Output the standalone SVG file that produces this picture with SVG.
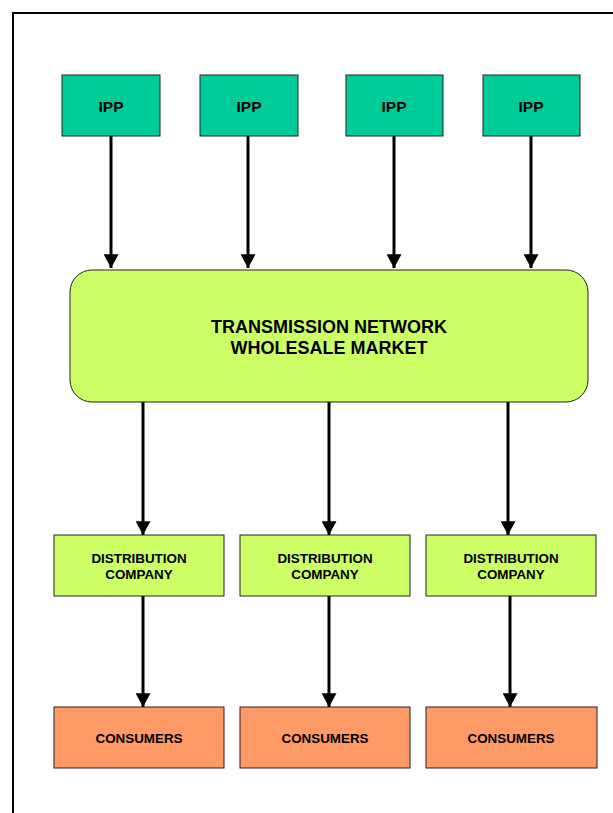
<svg xmlns="http://www.w3.org/2000/svg" width="613" height="813" viewBox="0 0 613 813">
  <style>
    .ipp { fill: #00CC99; stroke: #222; stroke-width: 1; }
    .net { fill: #CCFF66; stroke: #222; stroke-width: 1; }
    .dist { fill: #CCFF66; stroke: #222; stroke-width: 1; }
    .cons { fill: #FF9966; stroke: #222; stroke-width: 1; }
    .lbl { font-family: "Liberation Sans", Arial, sans-serif; font-weight: bold; fill: #000; text-anchor: middle; }
    .s12 { font-size: 13.4px; }
    .s15 { font-size: 15.5px; }
    .s16 { font-size: 18px; }
    .edge { stroke: #000; stroke-width: 3; fill: none; marker-end: url(#arrow); }
  </style>
  <defs>
    <marker id="arrow" markerWidth="5" markerHeight="5" refX="4.6" refY="2.5" orient="auto" markerUnits="strokeWidth">
      <path d="M0,0 L4.6,2.5 L0,5 z" fill="#000"/>
    </marker>
  </defs>
  <rect width="613" height="813" fill="#fff"/>
  <!-- outer frame -->
  <path d="M13,813 V13 H613" fill="none" stroke="#000" stroke-width="2"/>

  <g id="connectors">
    <line class="edge" x1="111" y1="136" x2="111" y2="268"/>
    <line class="edge" x1="248" y1="136" x2="248" y2="268"/>
    <line class="edge" x1="394" y1="136" x2="394" y2="268"/>
    <line class="edge" x1="531" y1="136" x2="531" y2="268"/>
    <line class="edge" x1="143" y1="402" x2="143" y2="535"/>
    <line class="edge" x1="329" y1="402" x2="329" y2="535"/>
    <line class="edge" x1="508" y1="402" x2="508" y2="535"/>
    <line class="edge" x1="143" y1="596" x2="143" y2="707"/>
    <line class="edge" x1="329" y1="596" x2="329" y2="707"/>
    <line class="edge" x1="510" y1="596" x2="510" y2="707"/>
  </g>

  <g id="ipp1"><rect class="ipp" x="62" y="75" width="98" height="61"/><text class="lbl s15" x="111" y="111.5">IPP</text></g>
  <g id="ipp2"><rect class="ipp" x="200" y="75" width="98" height="61"/><text class="lbl s15" x="249" y="111.5">IPP</text></g>
  <g id="ipp3"><rect class="ipp" x="346" y="75" width="97" height="61"/><text class="lbl s15" x="394" y="111.5">IPP</text></g>
  <g id="ipp4"><rect class="ipp" x="483" y="75" width="97" height="61"/><text class="lbl s15" x="531" y="111.5">IPP</text></g>

  <g id="network">
    <rect class="net" x="70" y="270" width="518" height="132" rx="22" ry="22"/>
    <text class="lbl s16" x="329" y="332.5">TRANSMISSION NETWORK</text>
    <text class="lbl s16" x="329" y="353.5">WHOLESALE MARKET</text>
  </g>

  <g id="dist1"><rect class="dist" x="54" y="535" width="170" height="61"/><text class="lbl s12" x="139" y="563">DISTRIBUTION</text><text class="lbl s12" x="139" y="579">COMPANY</text></g>
  <g id="dist2"><rect class="dist" x="240" y="535" width="170" height="61"/><text class="lbl s12" x="325" y="563">DISTRIBUTION</text><text class="lbl s12" x="325" y="579">COMPANY</text></g>
  <g id="dist3"><rect class="dist" x="426" y="535" width="170" height="61"/><text class="lbl s12" x="511" y="563">DISTRIBUTION</text><text class="lbl s12" x="511" y="579">COMPANY</text></g>

  <g id="cons1"><rect class="cons" x="54" y="707" width="170" height="61"/><text class="lbl s12" x="139" y="743">CONSUMERS</text></g>
  <g id="cons2"><rect class="cons" x="240" y="707" width="170" height="61"/><text class="lbl s12" x="325" y="743">CONSUMERS</text></g>
  <g id="cons3"><rect class="cons" x="426" y="707" width="171" height="61"/><text class="lbl s12" x="511" y="743">CONSUMERS</text></g>
</svg>
